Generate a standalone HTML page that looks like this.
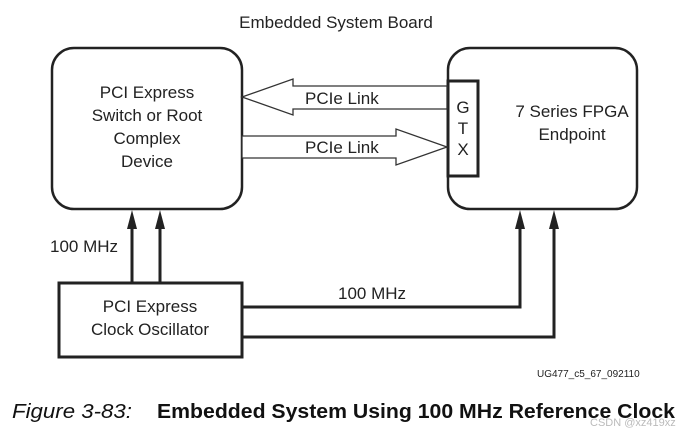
<!DOCTYPE html>
<html><head><style>body{margin:0;background:#fff}</style></head><body>
<svg width="695" height="436" viewBox="0 0 695 436" xmlns="http://www.w3.org/2000/svg" font-family="Liberation Sans, sans-serif">
<rect width="695" height="436" fill="#fff"/>
<text x="336" y="28" font-size="17" text-anchor="middle" fill="#222">Embedded System Board</text>
<rect x="52" y="48" width="190" height="161" rx="22" fill="none" stroke="#222" stroke-width="2.5"/>
<rect x="448" y="48" width="189" height="161" rx="22" fill="none" stroke="#222" stroke-width="2.5"/>
<rect x="448" y="81" width="30" height="95" fill="#fff" stroke="#222" stroke-width="3"/>
<g font-size="17" fill="#222" text-anchor="middle">
<text x="147" y="98">PCI Express</text>
<text x="147" y="121">Switch or Root</text>
<text x="147" y="144">Complex</text>
<text x="147" y="167">Device</text>
<text x="463" y="113">G</text>
<text x="463" y="134">T</text>
<text x="463" y="155">X</text>
<text x="572" y="117">7 Series FPGA</text>
<text x="572" y="140">Endpoint</text>
</g>
<polygon points="447,86 293,86 293,79 242,97 293,115 293,109 447,109" fill="#fff" stroke="#333" stroke-width="1.3"/>
<polygon points="242,136 396,136 396,129 447,147 396,165 396,158 242,158" fill="#fff" stroke="#333" stroke-width="1.3"/>
<text x="305" y="104" font-size="17" fill="#222">PCIe Link</text>
<text x="305" y="153" font-size="17" fill="#222">PCIe Link</text>
<rect x="59" y="283" width="183" height="74" fill="#fff" stroke="#222" stroke-width="3"/>
<text x="150" y="312" font-size="17" text-anchor="middle" fill="#222">PCI Express</text>
<text x="150" y="335" font-size="17" text-anchor="middle" fill="#222">Clock Oscillator</text>
<g stroke="#222" stroke-width="3" fill="none">
<line x1="132" y1="283" x2="132" y2="225"/>
<line x1="160" y1="283" x2="160" y2="225"/>
<polyline points="242,307 520,307 520,225"/>
<polyline points="242,337 554,337 554,225"/>
</g>
<g fill="#222">
<polygon points="127,229 137,229 132,210"/>
<polygon points="155,229 165,229 160,210"/>
<polygon points="515,229 525,229 520,210"/>
<polygon points="549,229 559,229 554,210"/>
</g>
<text x="50" y="252" font-size="17" fill="#222">100 MHz</text>
<text x="338" y="299" font-size="17" fill="#222">100 MHz</text>
<text x="537" y="377" font-size="10" fill="#222">UG477_c5_67_092110</text>
<text x="12" y="418" font-size="20" font-style="italic" fill="#111" textLength="120" lengthAdjust="spacingAndGlyphs">Figure 3-83:</text>
<text x="157" y="418" font-size="20" font-weight="bold" fill="#111" textLength="518" lengthAdjust="spacingAndGlyphs">Embedded System Using 100 MHz Reference Clock</text>
<text x="590" y="426" font-size="11" fill="#bbb">CSDN @xz419xz</text>
</svg>
</body></html>
